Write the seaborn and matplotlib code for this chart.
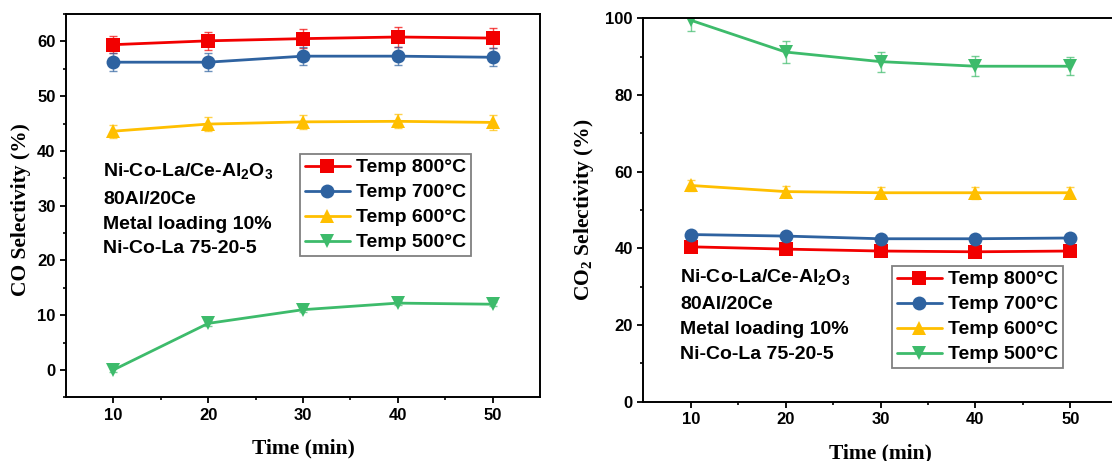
import numpy as np
import pandas as pd
import matplotlib
matplotlib.use('Agg')
import matplotlib.pyplot as plt
import seaborn as sns

# data
time = [10, 20, 30, 40, 50]
labels = ['Temp 800°C', 'Temp 700°C', 'Temp 600°C', 'Temp 500°C']

co_800 = [59.4, 60.1, 60.5, 60.8, 60.6]
co_700 = [56.2, 56.2, 57.3, 57.3, 57.1]
co_600 = [43.6, 44.9, 45.3, 45.4, 45.2]
co_500 = [0.0, 8.5, 11.0, 12.2, 12.0]
co_err_800 = [1.6, 1.7, 1.7, 1.8, 1.8]
co_err_700 = [1.6, 1.7, 1.6, 1.6, 1.6]
co_err_600 = [1.2, 1.3, 1.3, 1.3, 1.3]
co_err_500 = [0.4, 0.4, 0.4, 0.4, 0.4]

co2_800 = [40.4, 39.8, 39.3, 39.1, 39.3]
co2_700 = [43.6, 43.2, 42.5, 42.5, 42.7]
co2_600 = [56.4, 54.8, 54.5, 54.5, 54.5]
co2_500 = [99.5, 91.2, 88.7, 87.5, 87.5]
co2_err_800 = [0.8, 0.8, 0.8, 0.8, 0.8]
co2_err_700 = [0.8, 0.8, 0.8, 0.8, 0.8]
co2_err_600 = [1.5, 1.5, 1.4, 1.6, 1.4]
co2_err_500 = [2.7, 2.8, 2.6, 2.6, 2.4]

note_lines = ['Ni-Co-La/Ce-Al$_2$O$_3$', '80Al/20Ce', 'Metal loading 10%', 'Ni-Co-La 75-20-5']

colors = {'Temp 800°C': '#f20000', 'Temp 700°C': '#2e62a0',
          'Temp 600°C': '#ffbf00', 'Temp 500°C': '#3dbb6b'}
markers = {'Temp 800°C': 's', 'Temp 700°C': 'o', 'Temp 600°C': '^', 'Temp 500°C': 'v'}

sns.set_style('ticks')
plt.rcParams['font.family'] = ['Liberation Sans', 'DejaVu Sans']
plt.rcParams['font.weight'] = 'bold'
plt.rcParams['mathtext.default'] = 'regular'
for key in ['text.color', 'axes.labelcolor', 'xtick.color', 'ytick.color', 'axes.edgecolor']:
    plt.rcParams[key] = 'black'


def make_df(vals, errs):
    rows = []
    for lab, v, e in zip(labels, vals, errs):
        for t, y, s in zip(time, v, e):
            rows.append({'time': t, 'value': y, 'err': s, 'series': lab})
    return pd.DataFrame(rows)


def draw_panel(ax, df, ylim, yticks, yminor, ylabel, leg_anchor, note_x, note_ys, fig):
    sns.lineplot(data=df, x='time', y='value', hue='series', style='series',
                 hue_order=labels, style_order=labels, palette=colors, markers=markers,
                 dashes=False, linewidth=2.0, markersize=10, markeredgewidth=0, ax=ax)
    for lab in labels:
        sub = df[df['series'] == lab]
        ax.errorbar(sub['time'], sub['value'], yerr=sub['err'], fmt='none',
                    ecolor=colors[lab], alpha=0.7, elinewidth=1.0, capsize=3, capthick=1.0)
    ax.set_xlim(5, 55)
    ax.set_ylim(*ylim)
    ax.set_xticks([10, 20, 30, 40, 50])
    ax.set_xticks([15, 25, 35, 45], minor=True)
    ax.set_yticks(yticks)
    ax.set_yticks(yminor, minor=True)
    ax.tick_params(which='major', direction='out', length=4, width=1.3, labelsize=12)
    ax.tick_params(which='minor', direction='out', length=2.5, width=1.2)
    for s in ax.spines.values():
        s.set_linewidth(1.4)
    ax.set_xlabel('Time (min)', family='Liberation Serif', fontweight='bold', fontsize=15.5)
    ax.set_ylabel(ylabel, family='Liberation Serif', fontweight='bold', fontsize=15.5)
    sns.move_legend(ax, 'upper left', bbox_to_anchor=leg_anchor, bbox_transform=fig.transFigure,
                    title=None, frameon=True, fancybox=False, framealpha=1, edgecolor='#808080',
                    fontsize=14, borderaxespad=0, borderpad=0.25, labelspacing=0.38,
                    handlelength=2.3, handletextpad=0.35)
    ax.get_legend().get_frame().set_linewidth(1.3)
    for line, y in zip(note_lines, note_ys):
        fig.text(note_x / 1112, 1 - y / 461, line, fontsize=14, fontweight='bold',
                 ha='left', va='center')


fig = plt.figure(figsize=(11.12, 4.61), dpi=100)
ax1 = fig.add_axes([66 / 1112, 1 - 397.3 / 461, 474 / 1112, 383.3 / 461])
ax2 = fig.add_axes([643.3 / 1112, 1 - 401.7 / 461, 474.4 / 1112, 383.4 / 461])

df_co = make_df([co_800, co_700, co_600, co_500], [co_err_800, co_err_700, co_err_600, co_err_500])
df_co2 = make_df([co2_800, co2_700, co2_600, co2_500], [co2_err_800, co2_err_700, co2_err_600, co2_err_500])

draw_panel(ax1, df_co, (-5, 65), [0, 10, 20, 30, 40, 50, 60], np.arange(-5, 66, 5),
           'CO Selectivity (%)', (300 / 1112, 1 - 154 / 461), 103, [171, 199, 224, 248], fig)
draw_panel(ax2, df_co2, (0, 100), [0, 20, 40, 60, 80, 100], np.arange(0, 101, 10),
           'CO$_2$ Selectivity (%)', (892 / 1112, 1 - 266 / 461), 680, [277, 304, 329, 354], fig)

ax1.yaxis.set_label_coords((31 - 66) / 474, 0.49)
ax1.xaxis.set_label_coords(0.5, (397.3 - 438) / 383.3)
ax2.yaxis.set_label_coords((596 - 643.3) / 474.4, 0.5)
ax2.xaxis.set_label_coords(0.5, (401.7 - 443) / 383.4)

fig.savefig('out.png', dpi=100)
